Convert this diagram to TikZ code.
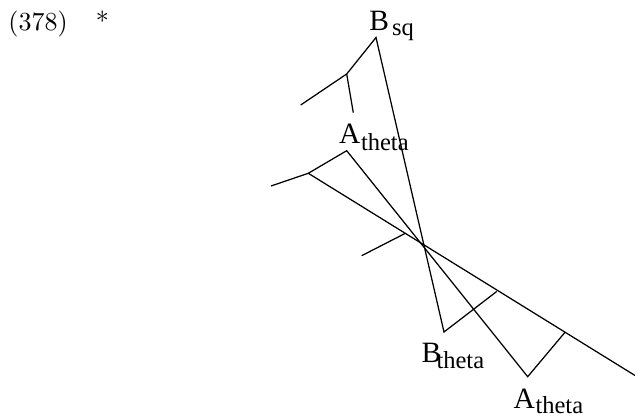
\documentclass[tikz,border=0pt]{standalone}
\usepackage{fontspec}
\newfontfamily\tms{Liberation Serif}
\begin{document}
\begin{tikzpicture}[x=0.4pt,y=-0.4pt,
  edge/.style={line width=0.5pt},
  numl/.style={inner sep=0,anchor=base west,font=\fontsize{10.4}{12}\selectfont},
  capl/.style={inner sep=0,anchor=base west,font=\tms\fontsize{11.8}{13}\selectfont},
  subl/.style={inner sep=0,anchor=base west,font=\tms\fontsize{9.8}{11}\selectfont}]
\useasboundingbox (0,0) rectangle (635,418);
% numbering
\node[numl] (num) at (8,30.7) {(378)};
\node[numl] (star) at (95.5,30.7) {*};
% labels
\node[capl] (bsqB) at (369,31) {B};
\node[subl] (bsqs) at (391.5,36) {sq};
\node[capl] (at1A) at (338.5,143.5) {A};
\node[subl] (at1s) at (360.5,150.5) {theta};
\node[capl] (btB) at (421,363) {B};
\node[subl] (bts) at (436,368.5) {theta};
\node[capl] (at2A) at (513,408.5) {A};
\node[subl] (at2s) at (535,413.5) {theta};
% tree 1
\coordinate (p1) at (376,37.5);
\coordinate (j1) at (346.7,74);
\coordinate (l1) at (300.7,105);
\coordinate (c1) at (353.3,112.7);
\coordinate (b1) at (444,332);
\coordinate (k1) at (496.7,291.5);
\draw[edge] (l1) -- (j1) -- (p1) -- (b1) -- (k1);
\draw[edge] (j1) -- (c1);
% tree 2
\coordinate (p2) at (346.7,150.7);
\coordinate (j2) at (308.3,173.3);
\coordinate (l2) at (271,186);
\coordinate (e2) at (635,375.5);
\coordinate (b2) at (527.7,376.7);
\coordinate (k2) at (565,332.3);
\coordinate (s1) at (361.7,255.7);
\coordinate (s2) at (405,233.5);
\draw[edge] (l2) -- (j2) -- (p2) -- (b2) -- (k2);
\draw[edge] (j2) -- (e2);
\draw[edge] (s1) -- (s2);
\end{tikzpicture}
\end{document}
